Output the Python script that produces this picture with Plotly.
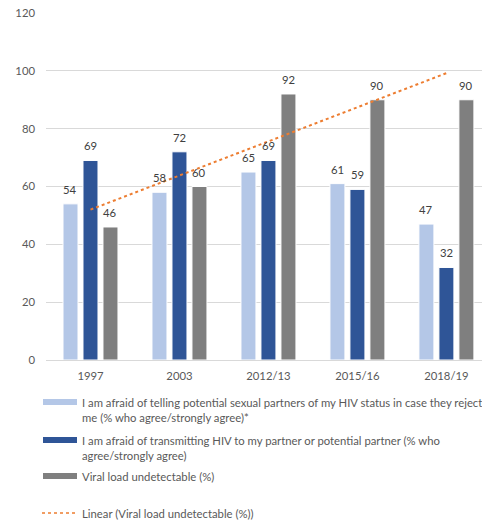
import numpy as np
import plotly.graph_objects as go

# Survey waves and series values
categories = ["1997", "2003", "2012/13", "2015/16", "2018/19"]
afraid_telling = [54, 58, 65, 61, 47]
afraid_transmitting = [69, 72, 69, 59, 32]
viral_undetectable = [46, 60, 92, 90, 90]

series_names = [
    "I am afraid of telling potential sexual partners of my HIV status in case they reject<br>me (% who agree/strongly agree)*",
    "I am afraid of transmitting HIV to my partner or potential partner (% who<br>agree/strongly agree)",
    "Viral load undetectable (%)",
]
trend_name = "Linear (Viral load undetectable (%))"

colors = ["#B4C7E7", "#2F5597", "#7F7F7F"]
trend_color = "#ED7D31"
text_color = "#595959"
FONT = "Lato"
FS = 11.3

W, H = 482, 523
M_L, M_R, M_T, M_B = 46, 0, 13, 163
plot_h = H - M_T - M_B

x = list(range(len(categories)))
all_series = [afraid_telling, afraid_transmitting, viral_undetectable]

fig = go.Figure()
for vals, name, col in zip(all_series, series_names, colors):
    fig.add_trace(go.Bar(
        x=x, y=vals, name=name,
        marker=dict(color=col, line=dict(color="white", width=1)),
        showlegend=False,
    ))

# Least-squares linear trend over the viral load series
xs = np.arange(1, len(categories) + 1)
slope, intercept = np.polyfit(xs, viral_undetectable, 1)
trend_y = slope * xs + intercept
fig.add_trace(go.Scatter(
    x=x, y=trend_y, mode="lines", name=trend_name,
    line=dict(color=trend_color, width=2, dash="dot"),
    showlegend=False, hoverinfo="skip",
))


def py(pix):
    """Convert a pixel row to paper y."""
    return (H - M_B - pix) / plot_h


def px(pix):
    plot_w = W - M_L - M_R
    return (pix - M_L) / plot_w


annotations = []
# Value labels above each bar (offset to the bar's slot within its group)
slot_shift = [-20, 0, 20]
for s, vals in enumerate(all_series):
    for xi, v in zip(x, vals):
        annotations.append(dict(x=xi, y=v, xref="x", yref="y", text=str(v),
                                showarrow=False, xshift=slot_shift[s], yshift=6,
                                yanchor="bottom",
                                font=dict(family=FONT, size=FS, color="#404040")))

# Hand-laid legend below the plot
shapes = []
legend_rows = [(402, 0), (440, 1), (476, 2)]
for row_y, i in legend_rows:
    shapes.append(dict(type="rect", xref="paper", yref="paper",
                       x0=px(43), x1=px(77), y0=py(row_y - 3), y1=py(row_y + 3),
                       fillcolor=colors[i], line=dict(width=0)))
    annotations.append(dict(xref="paper", yref="paper", x=px(80), y=py(row_y - 8),
                            xanchor="left", yanchor="top", align="left",
                            text=series_names[i], showarrow=False,
                            font=dict(family=FONT, size=FS, color=text_color)))
shapes.append(dict(type="line", xref="paper", yref="paper",
                   x0=px(42), x1=px(77), y0=py(513), y1=py(513),
                   line=dict(color=trend_color, width=1.5, dash="dot")))
annotations.append(dict(xref="paper", yref="paper", x=px(80), y=py(513),
                        xanchor="left", yanchor="middle", align="left",
                        text=trend_name, showarrow=False,
                        font=dict(family=FONT, size=FS, color=text_color)))

fig.update_layout(
    width=W, height=H,
    margin=dict(l=M_L, r=M_R, t=M_T, b=M_B),
    paper_bgcolor="white", plot_bgcolor="white",
    barmode="group", bargap=0.326, bargroupgap=0.25,
    font=dict(family=FONT, size=FS, color=text_color),
    shapes=shapes, annotations=annotations,
    xaxis=dict(
        range=[-0.5, 4.4], tickvals=x, ticktext=categories,
        showgrid=False, showline=False, zeroline=False, ticks="",
        ticklabelstandoff=8,
        tickfont=dict(family=FONT, size=FS, color=text_color),
    ),
    yaxis=dict(
        range=[0, 120], dtick=20, showgrid=True, gridcolor="#D9D9D9", gridwidth=1,
        zeroline=True, zerolinecolor="#D9D9D9", zerolinewidth=1,
        showline=False, ticks="", ticklabelstandoff=10,
        tickfont=dict(family=FONT, size=FS, color=text_color),
    ),
)

fig.write_html("out.html")
